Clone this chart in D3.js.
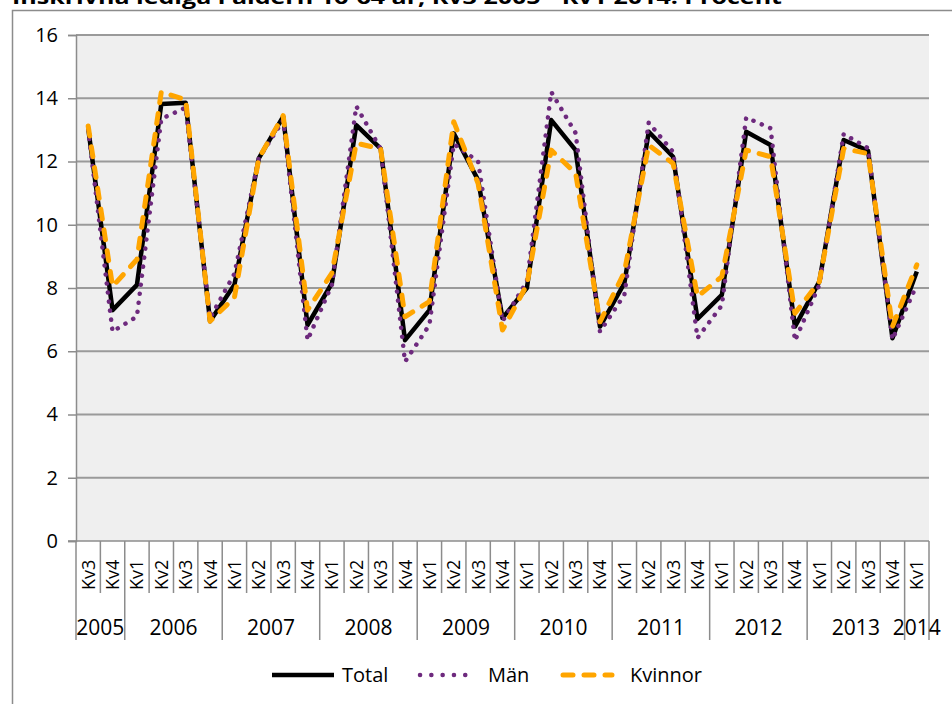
<!DOCTYPE html>
<html><head><meta charset="utf-8">
<script src="https://cdn.jsdelivr.net/npm/d3@7"></script>
<style>
html,body{margin:0;padding:0;background:#fff;}
svg{display:block;font-family:"Open Sans",sans-serif;}
</style></head>
<body><svg id="c" width="952" height="704"></svg>
<script>
const title = "Inskrivna lediga i åldern 16-64 år, Kv3 2005 - Kv1 2014. Procent";
const years = ["2005","2006","2007","2008","2009","2010","2011","2012","2013","2014"];
const quarters = ["Kv3","Kv4",
 "Kv1","Kv2","Kv3","Kv4","Kv1","Kv2","Kv3","Kv4","Kv1","Kv2","Kv3","Kv4",
 "Kv1","Kv2","Kv3","Kv4","Kv1","Kv2","Kv3","Kv4","Kv1","Kv2","Kv3","Kv4",
 "Kv1","Kv2","Kv3","Kv4","Kv1","Kv2","Kv3","Kv4","Kv1"];
const yearOf = [0,0, 1,1,1,1, 2,2,2,2, 3,3,3,3, 4,4,4,4, 5,5,5,5, 6,6,6,6, 7,7,7,7, 8,8,8,8, 9];
const total = [13.05,7.3,8.1,13.82,13.86,6.95,8.1,12.1,13.42,6.83,8.15,13.15,12.41,6.35,7.3,12.89,11.41,7.05,8.0,13.31,12.36,6.78,8.15,12.94,12.15,7.02,7.78,12.94,12.52,6.78,8.2,12.68,12.34,6.41,8.52];
const man   = [13.0,6.62,7.1,13.35,13.7,7.05,8.45,12.1,13.3,6.35,8.1,13.75,12.4,5.67,6.83,12.55,12.0,6.95,8.2,14.2,12.9,6.62,7.78,13.23,12.3,6.42,7.45,13.39,13.05,6.33,8.1,12.87,12.42,6.37,8.1];
const kvinnor=[13.12,8.05,8.9,14.2,13.95,6.95,7.7,12.1,13.45,7.3,8.47,12.58,12.4,7.09,7.57,13.26,11.3,6.67,8.1,12.36,11.63,6.93,8.5,12.52,11.94,7.73,8.36,12.36,12.15,7.2,8.2,12.41,12.25,6.78,8.73];
const yTicks = [0,2,4,6,8,10,12,14,16];
const seriesNames = ["Total","Män","Kvinnor"];

const svg = d3.select("#c");
const L = 76, R = 929, T = 35, B = 541;
const x = d3.scaleBand().domain(d3.range(quarters.length)).range([L,R]).paddingInner(0).paddingOuter(0);
const y = d3.scaleLinear().domain([0,16]).range([B,T]);
const grey = "#8c8c8c";

// title (clipped at top, as in the source)
svg.append("text").attr("x",12).attr("y",4).attr("font-weight","bold").attr("font-size",20)
  .attr("textLength",770).attr("lengthAdjust","spacingAndGlyphs")
  .attr("fill","#000").text(title);
// outer border
svg.append("path").attr("d",`M12.5,720 V10.5 H960`).attr("fill","none").attr("stroke",grey).attr("stroke-width",1.5);

// plot background
svg.append("rect").attr("x",L).attr("y",T).attr("width",R-L).attr("height",B-T).attr("fill","#efefef");

// gridlines
svg.append("g").selectAll("line").data(yTicks.filter(d=>d>0)).join("line")
  .attr("x1",L).attr("x2",R).attr("y1",d=>y(d)).attr("y2",d=>y(d))
  .attr("stroke","#9a9a9a").attr("stroke-width",2);

// y axis
const ya = svg.append("g").attr("transform",`translate(${L},0)`)
  .call(d3.axisLeft(y).tickValues(yTicks).tickSize(8).tickPadding(10).tickFormat(d3.format("d")));
ya.select(".domain").attr("stroke",grey).attr("stroke-width",1.5);
ya.selectAll(".tick line").attr("stroke",grey).attr("stroke-width",1.5);
ya.selectAll(".tick text").attr("font-size",20).attr("fill","#000")
  .attr("font-family","'Open Sans',sans-serif");

// x axis line
svg.append("line").attr("x1",L-8).attr("x2",R).attr("y1",B).attr("y2",B).attr("stroke",grey).attr("stroke-width",1.5);

// category separators
const bounds = d3.range(quarters.length+1);
svg.append("g").selectAll("line").data(bounds).join("line")
  .attr("x1",i=> i<quarters.length ? x(i) : R).attr("x2",i=> i<quarters.length ? x(i) : R)
  .attr("y1",B)
  .attr("y2",i=> (i===0 || i===quarters.length || yearOf[i]!==yearOf[i-1]) ? 640 : 593)
  .attr("stroke",grey).attr("stroke-width",1.5);

// quarter labels
svg.append("g").selectAll("text").data(quarters).join("text")
  .attr("transform",(d,i)=>`translate(${x(i)+x.bandwidth()/2+6.5},590) rotate(-90)`)
  .attr("font-size",18).attr("fill","#000").text(d=>d);

// year labels
svg.append("g").selectAll("text").data(years).join("text")
  .attr("x",(d,k)=>{const idx=d3.range(quarters.length).filter(i=>yearOf[i]===k);
     return (x(idx[0]) + x(idx[idx.length-1]) + x.bandwidth())/2;})
  .attr("y",635).attr("text-anchor","middle").attr("font-size",21).attr("fill","#000").text(d=>d);

// lines
const line = d3.line().x((d,i)=>x(i)+x.bandwidth()/2).y(d=>y(d));
const styles = [
  {data: total, color:"#000000", w:4.5, dash:null, cap:"butt"},
  {data: man, color:"#6e2a7e", w:4.5, dash:"0.1 9", cap:"round"},
  {data: kvinnor, color:"#ffa500", w:5, dash:"10 11", cap:"round"}
];
styles.forEach(s=>{
  svg.append("path").datum(s.data).attr("d",line).attr("fill","none")
    .attr("stroke",s.color).attr("stroke-width",s.w).attr("stroke-linejoin","round")
    .attr("stroke-linecap",s.cap).attr("stroke-dasharray",s.dash);
});

// legend
const leg = [
  {x1:272,x2:334,tx:342,dash:null,cap:"butt"},
  {x1:420,x2:476,tx:488,dash:"0.1 11.2",cap:"round"},
  {x1:563,x2:612,tx:630,dash:"10 11",cap:"round"}
];
leg.forEach((l,i)=>{
  svg.append("line").attr("x1",l.x1).attr("x2",l.x2).attr("y1",675).attr("y2",675)
    .attr("stroke",styles[i].color).attr("stroke-width",styles[i].w)
    .attr("stroke-linecap",l.cap).attr("stroke-dasharray",l.dash);
  svg.append("text").attr("x",l.tx).attr("y",682).attr("font-size",20).attr("fill","#000").text(seriesNames[i]);
});
</script></body></html>
